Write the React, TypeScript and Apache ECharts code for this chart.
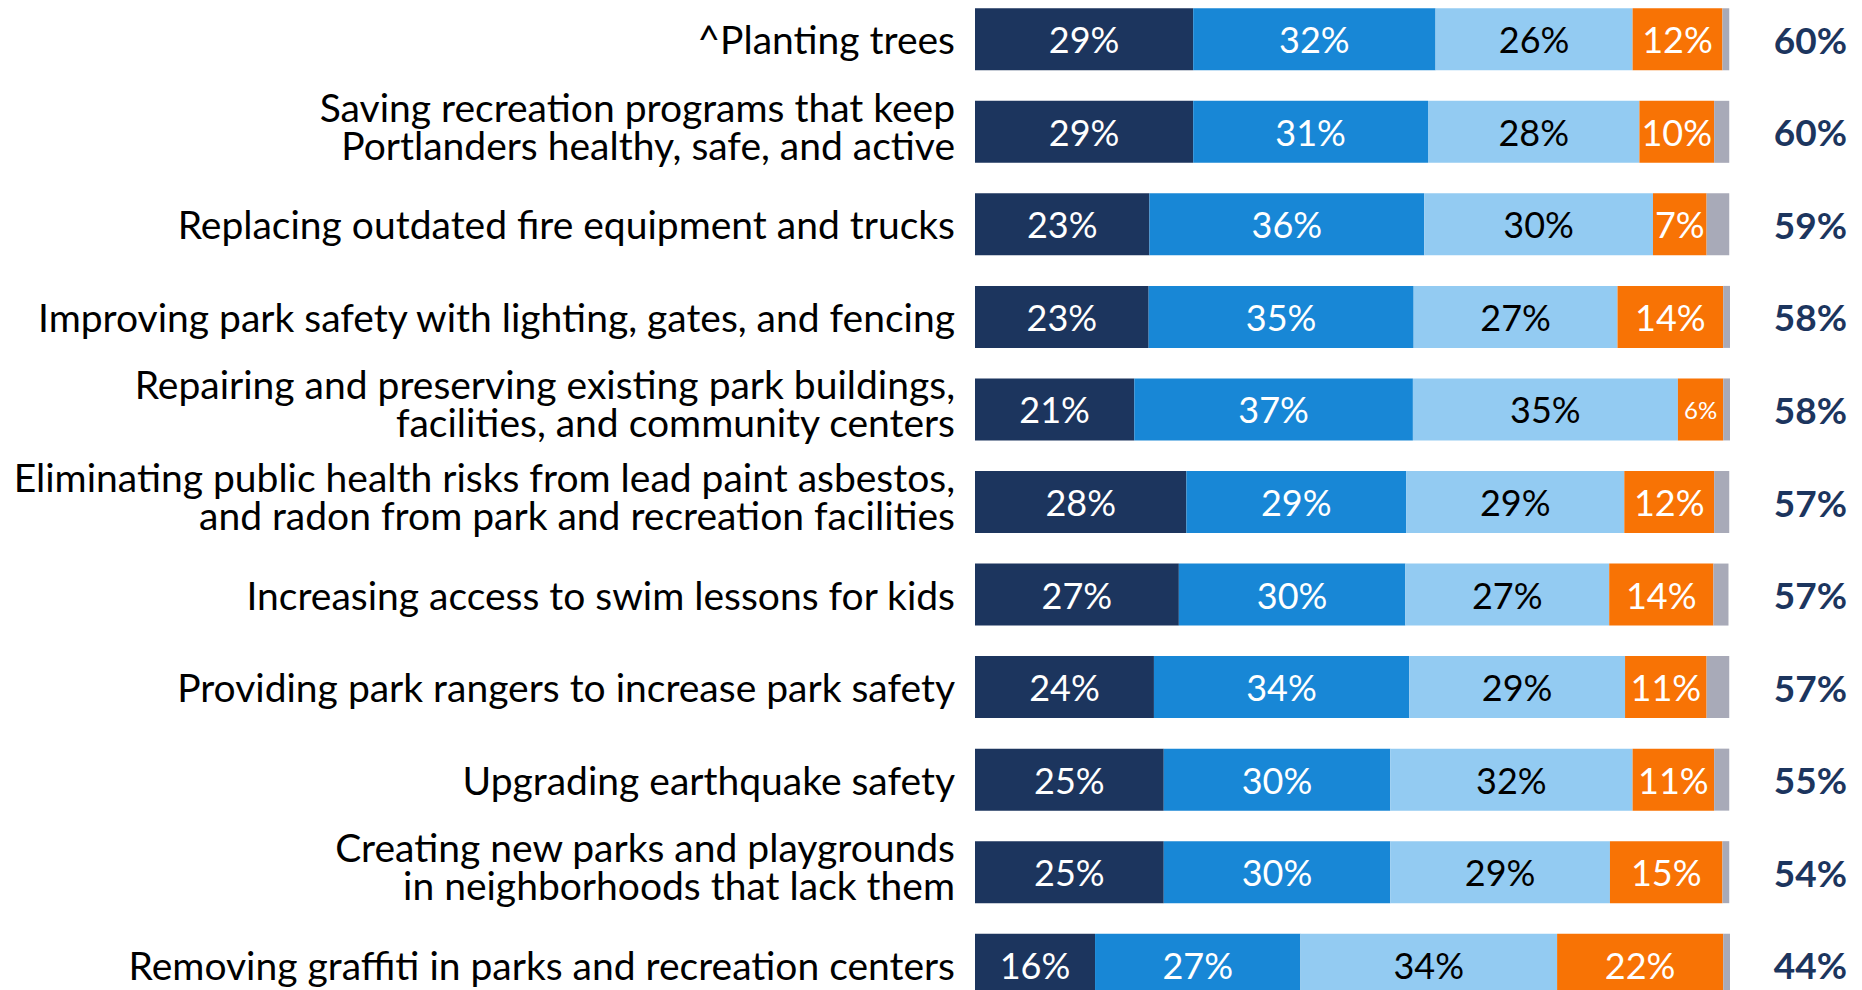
import React, { useEffect, useRef } from "react";
import * as echarts from "echarts";

const categories = [
  "^Planting trees",
  "Saving recreation programs that keep\nPortlanders healthy, safe, and active",
  "Replacing outdated fire equipment and trucks",
  "Improving park safety with lighting, gates, and fencing",
  "Repairing and preserving existing park buildings,\nfacilities, and community centers",
  "Eliminating public health risks from lead paint asbestos,\nand radon from park and recreation facilities",
  "Increasing access to swim lessons for kids",
  "Providing park rangers to increase park safety",
  "Upgrading earthquake safety",
  "Creating new parks and playgrounds\nin neighborhoods that lack them",
  "Removing graffiti in parks and recreation centers",
];

const seg1 = [28.9, 28.9, 23.1, 23.0, 21.1, 28.0, 27.0, 23.7, 25.0, 25.0, 15.9];
const seg2 = [32.1, 31.1, 36.4, 35.1, 36.9, 29.1, 30.0, 33.8, 30.0, 30.0, 27.2];
const seg3 = [26.1, 28.0, 30.3, 27.0, 35.1, 28.9, 27.0, 28.6, 32.1, 29.1, 34.0];
const seg4 = [11.9, 9.9, 7.1, 14.0, 6.0, 11.9, 13.8, 10.8, 10.8, 14.9, 22.0];
const seg5 = [0.9, 2.0, 3.0, 0.9, 0.9, 2.0, 2.0, 3.0, 2.0, 0.9, 0.9];
const totals = ["60%", "60%", "59%", "58%", "58%", "57%", "57%", "57%", "55%", "54%", "44%"];

const colors = ["#1C355E", "#1887D6", "#93CBF2", "#F87305", "#A8AAB8"];
const labelColors = ["#FFFFFF", "#FFFFFF", "#000000", "#FFFFFF", "#000000"];

export default function App() {
  const ref = useRef<HTMLDivElement>(null);
  useEffect(() => {
    if (!ref.current) return;
    const chart = echarts.init(ref.current, undefined, { renderer: "svg" });
    const FONT = "Lato";
    const segs = [seg1, seg2, seg3, seg4, seg5];
    const series = segs.map((arr, si) => ({
      type: "bar",
      stack: "all",
      barWidth: 62,
      data: arr.map((v) => ({
        value: v,
        label: {
          show: si < 4,
          fontSize: v < 6.5 ? 24 : 36,
        },
      })),
      itemStyle: { color: colors[si] },
      label: {
        show: si < 4,
        position: "inside",
        color: labelColors[si],
        fontFamily: FONT,
        fontSize: 36,
        formatter: (p: any) => Math.round(p.value) + "%",
      },
      emphasis: { disabled: true },
    }));
    chart.setOption({
      animation: false,
      textStyle: { fontFamily: FONT },
      grid: { left: 975, right: 132, top: 0, bottom: 0, containLabel: false },
      xAxis: { type: "value", min: 0, max: 100, show: false },
      yAxis: [
        {
          type: "category",
          inverse: true,
          data: categories,
          axisLine: { show: false },
          axisTick: { show: false },
          splitLine: { show: false },
          axisLabel: {
            color: "#000000",
            fontFamily: FONT,
            fontSize: 39,
            margin: 20,
            align: "right",
            formatter: (v: string) => {
              if (!v.includes("\n")) return "{a|" + v + "}";
              return v.split("\n").map((l) => "{a|" + l + "}").join("\n") + "\n{s|}";
            },
            rich: {
              a: { fontFamily: FONT, fontSize: 39, lineHeight: 38, color: "#000000", align: "right" },
              s: { fontSize: 1, lineHeight: 12 },
            },
          },
        },
        {
          type: "category",
          inverse: true,
          position: "right",
          data: totals,
          axisLine: { show: false },
          axisTick: { show: false },
          splitLine: { show: false },
          axisLabel: {
            color: "#1C355E",
            fontFamily: FONT,
            fontWeight: "bold",
            fontSize: 37,
            margin: 117,
            align: "right",
          },
        },
      ],
      series,
    });
    return () => chart.dispose();
  }, []);
  return (
    <div
      style={{
        position: "fixed",
        left: 0,
        top: 0,
        width: 1862,
        height: 990,
        overflow: "hidden",
        background: "#fff",
      }}
    >
      <div
        ref={ref}
        style={{ position: "absolute", left: 0, top: -7, width: 1862, height: 1018 }}
      />
    </div>
  );
}
